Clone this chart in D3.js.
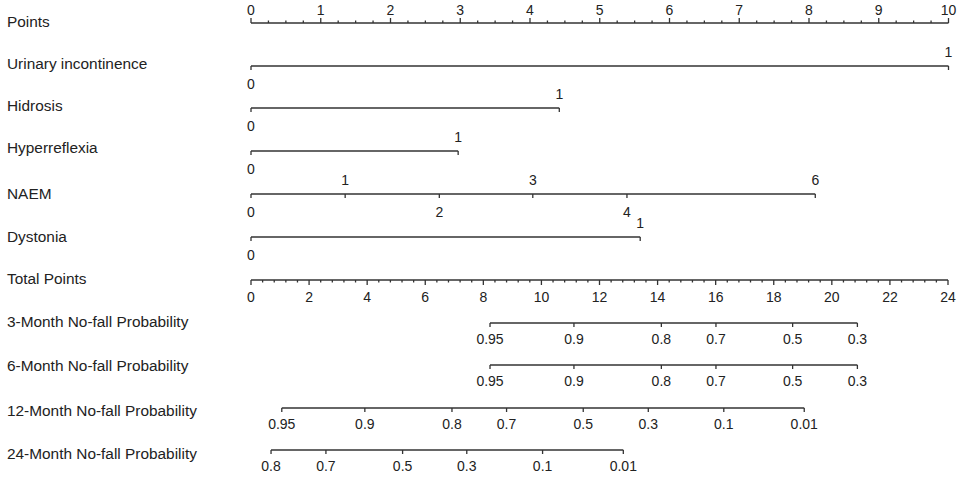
<!DOCTYPE html>
<html><head><meta charset="utf-8">
<script src="https://cdn.jsdelivr.net/npm/d3@7"></script>
<style>body{margin:0;background:#fff}svg{display:block}text{font-family:"Liberation Sans",Arial,sans-serif;fill:#222}</style>
</head><body><svg id="c" width="957" height="480"></svg>
<script>
// ---- data ----
const rowLabels = ["Points","Urinary incontinence","Hidrosis","Hyperreflexia","NAEM","Dystonia","Total Points",
  "3-Month No-fall Probability","6-Month No-fall Probability","12-Month No-fall Probability","24-Month No-fall Probability"];
const pointsTicks = [0,1,2,3,4,5,6,7,8,9,10];
const totalTicks = [0,2,4,6,8,10,12,14,16,18,20,22,24];

const urinaryLevels = ["0","1"];      const urinaryPoints = [0, 10];
const hidrosisLevels = ["0","1"];     const hidrosisPoints = [0, 4.42];
const hyperLevels = ["0","1"];        const hyperPoints = [0, 2.97];
const naemLevels = ["0","1","2","3","4","6"];
const naemPoints = [0, 1.35, 2.70, 4.04, 5.39, 8.09];
const dystoniaLevels = ["0","1"];     const dystoniaPoints = [0, 5.58];

const prob3Labels = ["0.95","0.9","0.8","0.7","0.5","0.3"];
const prob3Total = [8.23, 11.12, 14.13, 16.01, 18.65, 20.88];
const prob6Labels = ["0.95","0.9","0.8","0.7","0.5","0.3"];
const prob6Total = [8.23, 11.12, 14.13, 16.01, 18.65, 20.88];
const prob12Labels = ["0.95","0.9","0.8","0.7","0.5","0.3","0.1","0.01"];
const prob12Total = [1.06, 3.92, 6.92, 8.80, 11.44, 13.68, 16.28, 19.05];
const prob24Labels = ["0.8","0.7","0.5","0.3","0.1","0.01"];
const prob24Total = [0.69, 2.58, 5.22, 7.43, 10.04, 12.82];

// ---- layout ----
const svg = d3.select("#c");
const xP = d3.scaleLinear().domain([0,10]).range([251,948.5]);
const xT = d3.scaleLinear().domain([0,24]).range([251,948]);
const rowY = [23,66,108,151,194,237,280,323,365,408,450];
const labelY = [22,64,106,148,194,237,279,322,366,411,454];
const stroke = "#333", sw = 1.3;
const fsLab = 15.4, fsTick = 14;

// row labels
svg.append("g").selectAll("text").data(rowLabels).join("text")
  .attr("x", 7).attr("y", (d,i)=>labelY[i]).attr("dy","0.35em")
  .style("font-size", fsLab+"px").text(d=>d);

function line(x1,x2,y){
  svg.append("line").attr("x1",x1).attr("x2",x2).attr("y1",y).attr("y2",y)
    .attr("stroke",stroke).attr("stroke-width",sw);
}
function tick(x,y1,y2){
  svg.append("line").attr("x1",x).attr("x2",x).attr("y1",y1).attr("y2",y2)
    .attr("stroke",stroke).attr("stroke-width",sw);
}
function label(x,y,t){
  svg.append("text").attr("x",x).attr("y",y).attr("dy","0.35em")
    .attr("text-anchor","middle").style("font-size",fsTick+"px").text(t);
}

// Points axis (ticks up, labels above)
{
  const y = rowY[0];
  line(xP(0), xP(10), y);
  d3.range(0, 10.001, 0.25).forEach(v=>{
    const major = Math.abs(v - Math.round(v)) < 1e-6;
    tick(xP(v), y, y - (major ? 5 : 2.5));
  });
  pointsTicks.forEach(v=>label(xP(v), y-13, String(v)));
}

// categorical variables
function catRow(levels, pts, y){
  line(xP(d3.min(pts)), xP(d3.max(pts)), y);
  pts.forEach((p,i)=>{
    tick(xP(p), y, y+4);
    const above = i % 2 === 1;
    label(xP(p), above ? y-14 : y+18, levels[i]);
  });
}
catRow(urinaryLevels, urinaryPoints, rowY[1]);
catRow(hidrosisLevels, hidrosisPoints, rowY[2]);
catRow(hyperLevels, hyperPoints, rowY[3]);
catRow(naemLevels, naemPoints, rowY[4]);
catRow(dystoniaLevels, dystoniaPoints, rowY[5]);

// Total points axis (ticks down, labels below)
{
  const y = rowY[6];
  line(xT(0), xT(24), y);
  d3.range(0, 24.001, 0.4).forEach(v=>{
    const major = Math.abs(v/2 - Math.round(v/2)) < 1e-6;
    tick(xT(v), y, y + (major ? 5 : 2.5));
  });
  totalTicks.forEach(v=>label(xT(v), y+17, String(v)));
}

// probability axes
function probRow(labels, tot, y){
  line(xT(d3.min(tot)), xT(d3.max(tot)), y);
  tot.forEach((t,i)=>{
    tick(xT(t), y, y+4);
    label(xT(t), y+16.5, labels[i]);
  });
}
probRow(prob3Labels, prob3Total, rowY[7]);
probRow(prob6Labels, prob6Total, rowY[8]);
probRow(prob12Labels, prob12Total, rowY[9]);
probRow(prob24Labels, prob24Total, rowY[10]);
</script></body></html>
